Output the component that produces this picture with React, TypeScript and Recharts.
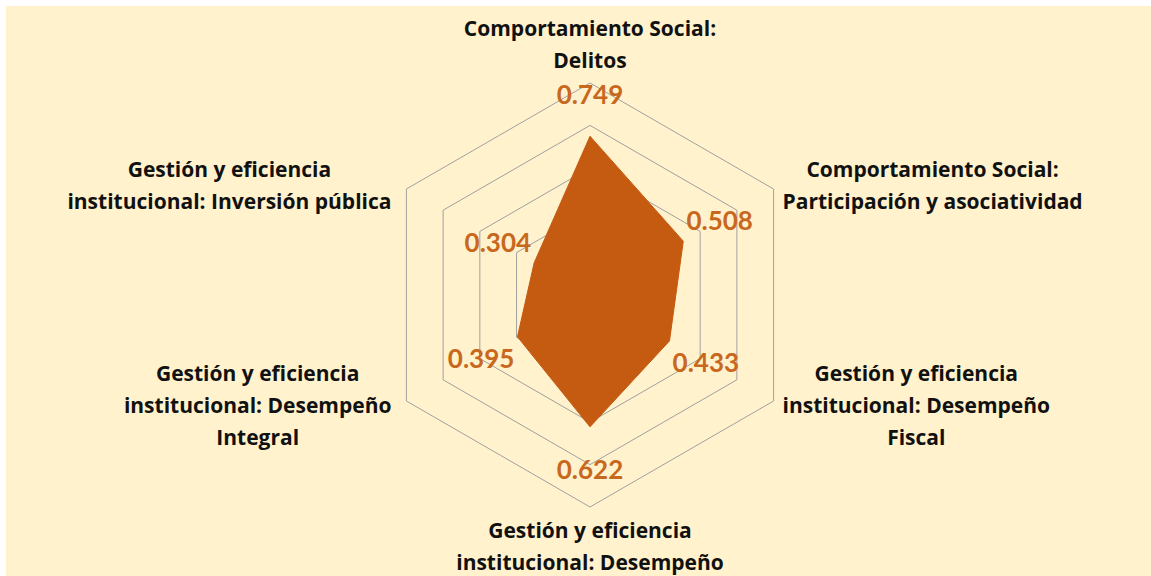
import { RadarChart, Radar, PolarGrid, PolarAngleAxis, PolarRadiusAxis, LabelList } from "recharts";

const categories = [
  "Comportamiento Social: Delitos",
  "Comportamiento Social: Participación y asociatividad",
  "Gestión y eficiencia institucional: Desempeño Fiscal",
  "Gestión y eficiencia institucional: Desempeño",
  "Gestión y eficiencia institucional: Desempeño Integral",
  "Gestión y eficiencia institucional: Inversión pública",
];

// how each category name wraps on the chart
const categoryLines = [
  ["Comportamiento Social:", "Delitos"],
  ["Comportamiento Social:", "Participación y asociatividad"],
  ["Gestión y eficiencia", "institucional: Desempeño", "Fiscal"],
  ["Gestión y eficiencia", "institucional: Desempeño"],
  ["Gestión y eficiencia", "institucional: Desempeño", "Integral"],
  ["Gestión y eficiencia", "institucional: Inversión pública"],
];

const scores = [0.749, 0.508, 0.433, 0.622, 0.395, 0.304];
const radiusTicks = [0, 0.2, 0.4, 0.6, 0.8, 1];

const data = categories.map((name, i) => ({ name, score: scores[i] }));

const LABEL_FONT = "'Open Sans', sans-serif";
const LABEL_SIZE = 21;
const LINE_H = 32;

let measureCtx: CanvasRenderingContext2D | null = null;
function textWidth(s: string) {
  if (!measureCtx) measureCtx = document.createElement("canvas").getContext("2d");
  if (!measureCtx) return s.length * LABEL_SIZE * 0.55;
  measureCtx.font = `bold ${LABEL_SIZE}px 'Open Sans'`;
  return measureCtx.measureText(s).width;
}

function CategoryTick(props: any) {
  const { x, y, payload } = props;
  const idx = categories.indexOf(payload.value);
  const lines = categoryLines[idx] ?? [payload.value];
  const rad = (payload.coordinate * Math.PI) / 180;
  const cos = Math.cos(rad);
  const sin = Math.sin(rad);
  const maxW = Math.max(...lines.map(textWidth));

  let cx = x;
  let firstY = y - ((lines.length - 1) * LINE_H) / 2;
  if (Math.abs(cos) < 0.1) {
    if (sin > 0) firstY = y - 15 - (lines.length - 1) * LINE_H;
    else firstY = y + 15;
  } else if (cos > 0) {
    cx = x + 2 + maxW / 2;
  } else {
    cx = x - 8 - maxW / 2;
  }

  return (
    <text
      x={cx}
      y={firstY}
      textAnchor="middle"
      fontFamily={LABEL_FONT}
      fontWeight="bold"
      fontSize={LABEL_SIZE}
      fill="#111"
    >
      {lines.map((l, i) => (
        <tspan key={i} x={cx} y={firstY + i * LINE_H} dominantBaseline="central">
          {l}
        </tspan>
      ))}
    </text>
  );
}

function ValueLabel(props: any) {
  const { x, y, value, index } = props;
  const a = ((90 - index * 60) * Math.PI) / 180;
  const lx = x + Math.cos(a) * 42;
  const ly = y - Math.sin(a) * 42;
  return (
    <text
      x={lx}
      y={ly}
      textAnchor="middle"
      dominantBaseline="central"
      fontFamily="Lato, sans-serif"
      fontWeight="bold"
      fontSize={26}
      fill="#C8681E"
    >
      {Number(value).toFixed(3)}
    </text>
  );
}

export default function App() {
  return (
    <div style={{ position: "fixed", inset: 0, overflow: "hidden", background: "#fff" }}>
      <div style={{ position: "absolute", left: 6, top: 6, width: 1145, height: 570, background: "#FFF2CC" }}>
        <RadarChart
          width={1145}
          height={570}
          data={data}
          cx={584}
          cy={289}
          outerRadius={212}
          startAngle={90}
          endAngle={-270}
          margin={{ top: 0, right: 0, bottom: 0, left: 0 }}
        >
          <PolarGrid gridType="polygon" radialLines={false} stroke="#A0A0A0" strokeWidth={1} />
          <PolarAngleAxis dataKey="name" tick={CategoryTick} tickLine={false} axisLine={false} />
          <PolarRadiusAxis domain={[0, 1]} ticks={radiusTicks as any} tick={false} axisLine={false} />
          <Radar
            dataKey="score"
            fill="#C55A11"
            fillOpacity={1}
            stroke="#C55A11"
            isAnimationActive={false}
          >
            <LabelList dataKey="score" content={ValueLabel} />
          </Radar>
        </RadarChart>
      </div>
    </div>
  );
}
